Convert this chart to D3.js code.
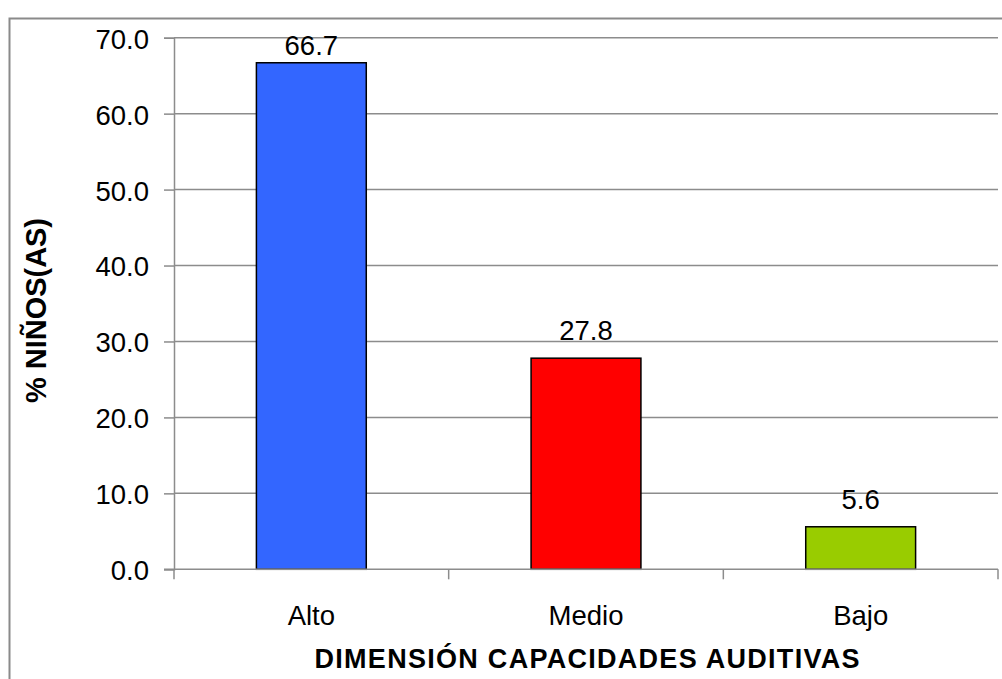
<!DOCTYPE html>
<html>
<head>
<meta charset="utf-8">
<script src="https://cdn.jsdelivr.net/npm/d3@7"></script>
<style>
  html, body { margin: 0; padding: 0; background: #fff; }
  svg { display: block; font-family: "Liberation Sans", Arial, sans-serif; }
</style>
</head>
<body>
<svg id="chart" width="1002" height="679"></svg>
<script>
const categories = ["Alto", "Medio", "Bajo"];
const values = [66.7, 27.8, 5.6];
const colors = ["#3366FF", "#FF0000", "#99CC00"];
const yTicks = [0, 10, 20, 30, 40, 50, 60, 70];
const xTitle = "DIMENSIÓN CAPACIDADES AUDITIVAS";
const yTitle = "% NIÑOS(AS)";

const svg = d3.select("#chart");
const pLeft = 174, pRight = 998, pTop = 37.7, pBottom = 569.3;
const fs = 27.5;

// outer chart border
svg.append("rect")
  .attr("x", 9.5).attr("y", 18.5)
  .attr("width", 1010).attr("height", 700)
  .attr("fill", "none").attr("stroke", "#8a8a8a").attr("stroke-width", 2);

const x = d3.scaleBand().domain(categories).range([pLeft, pRight])
  .paddingInner(0.6).paddingOuter(0.3);
const y = d3.scaleLinear().domain([0, 70]).range([pBottom, pTop]);

// gridlines
svg.append("g").selectAll("line").data(yTicks.filter(d => d > 0)).join("line")
  .attr("x1", pLeft).attr("x2", pRight)
  .attr("y1", d => y(d)).attr("y2", d => y(d))
  .attr("stroke", "#8c8c8c").attr("stroke-width", 1.5);

// y axis
const yAxis = svg.append("g").attr("transform", `translate(${pLeft},0)`)
  .call(d3.axisLeft(y).tickValues(yTicks).tickFormat(d3.format(".1f")).tickSize(10).tickPadding(15));
yAxis.select(".domain").attr("stroke", "#8c8c8c").attr("stroke-width", 1.5);
yAxis.selectAll(".tick line").attr("stroke", "#8c8c8c").attr("stroke-width", 1.5);
yAxis.selectAll(".tick text").attr("font-size", fs).attr("fill", "#000")
  .attr("font-family", "Liberation Sans, Arial, sans-serif").attr("dy", "0.38em");

// bars
svg.append("g").selectAll("rect").data(values).join("rect")
  .attr("x", (d, i) => x(categories[i]))
  .attr("y", d => y(d))
  .attr("width", x.bandwidth())
  .attr("height", d => pBottom - y(d))
  .attr("fill", (d, i) => colors[i])
  .attr("stroke", "#000").attr("stroke-width", 1.5);

// x axis
const xTickPos = [pLeft, ...categories.slice(1).map(c => x(c) - x.step() * x.paddingInner() / 2), pRight];
svg.append("line").attr("x1", pLeft - 10).attr("x2", pRight)
  .attr("y1", pBottom).attr("y2", pBottom)
  .attr("stroke", "#8c8c8c").attr("stroke-width", 1.5);
svg.append("g").selectAll("line").data(xTickPos).join("line")
  .attr("x1", d => d).attr("x2", d => d)
  .attr("y1", pBottom).attr("y2", pBottom + 10)
  .attr("stroke", "#8c8c8c").attr("stroke-width", 1.5);
svg.append("g").selectAll("text").data(categories).join("text")
  .attr("x", d => x(d) + x.bandwidth() / 2).attr("y", 625)
  .attr("text-anchor", "middle").attr("font-size", fs).attr("fill", "#000")
  .text(d => d);

// value labels
svg.append("g").selectAll("text").data(values).join("text")
  .attr("x", (d, i) => x(categories[i]) + x.bandwidth() / 2)
  .attr("y", d => Math.max(y(d) - 18, 55))
  .attr("text-anchor", "middle").attr("font-size", fs).attr("fill", "#000")
  .text(d => d3.format(".1f")(d));

// axis titles
svg.append("text").attr("x", 587).attr("y", 668)
  .attr("text-anchor", "middle").attr("font-size", 27).attr("font-weight", "bold")
  .attr("textLength", 545).attr("lengthAdjust", "spacing")
  .text(xTitle);
svg.append("text").attr("transform", "translate(46,310.5) rotate(-90)")
  .attr("text-anchor", "middle").attr("font-size", 29).attr("font-weight", "bold")
  .attr("textLength", 185).attr("lengthAdjust", "spacingAndGlyphs")
  .text(yTitle);
</script>
</body>
</html>
